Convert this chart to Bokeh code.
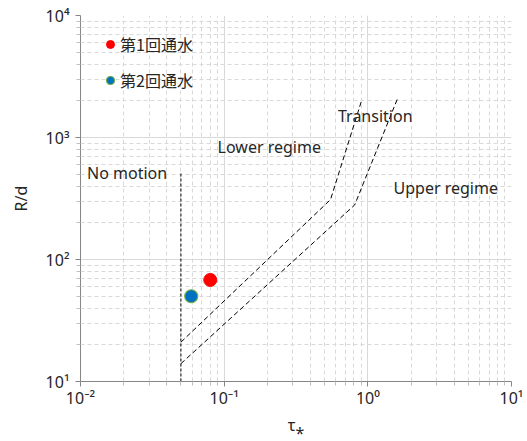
from bokeh.plotting import figure
from bokeh.models import (Range1d, FixedTicker, CustomJSTickFormatter, Label,
                          Legend, LegendItem)
from bokeh.embed import file_html
from bokeh.resources import INLINE

# Observed runs (dimensionless shear stress vs relative depth)
run_labels = ["第1回通水", "第2回通水"]
tau_star = [0.080, 0.059]
r_over_d = [68, 50]

# Regime boundaries
no_motion_tau = [0.05, 0.05]
no_motion_rd = [10, 510]
lower_bound_tau = [0.05, 0.55, 0.91]
lower_bound_rd = [21, 310, 2050]
upper_bound_tau = [0.05, 0.81, 1.6]
upper_bound_rd = [14, 280, 2050]

region_names = ["No motion", "Lower regime", "Transition", "Upper regime"]

FONT = "Noto Sans"
CJK = "Noto Sans CJK JP"
GRID = "#d9d9d9"
TEXT = "#262626"

p = figure(width=527, height=441, x_axis_type="log", y_axis_type="log",
           x_range=Range1d(0.01, 10), y_range=Range1d(10, 10000),
           output_backend="svg", toolbar_location=None,
           min_border_left=80, min_border_right=16,
           min_border_top=15, min_border_bottom=60)
p.outline_line_color = None
p.background_fill_color = "white"

decades_x = [0.01, 0.1, 1, 10]
decades_y = [10, 100, 1000, 10000]
minor_x = [k * d for d in decades_x[:-1] for k in range(2, 10)]
minor_y = [k * d for d in decades_y[:-1] for k in range(2, 10)]
p.xaxis.ticker = FixedTicker(ticks=decades_x, minor_ticks=minor_x)
p.yaxis.ticker = FixedTicker(ticks=decades_y, minor_ticks=minor_y)

fmt = CustomJSTickFormatter(code="""
const e = Math.round(Math.log10(tick));
const sup = {'-':'\u207b','0':'\u2070','1':'\u00b9','2':'\u00b2','3':'\u00b3','4':'\u2074'};
return '10' + String(e).split('').map(c => sup[c]).join('');
""")
for ax in (p.xaxis[0], p.yaxis[0]):
    ax.formatter = fmt
    ax.axis_line_color = "#868686"
    ax.major_tick_line_color = "#868686"
    ax.minor_tick_line_color = "#bfbfbf"
    ax.major_tick_out = 5
    ax.major_tick_in = 0
    ax.minor_tick_out = 4
    ax.minor_tick_in = 0
    ax.major_label_text_font = FONT
    ax.major_label_text_font_size = "16px"
    ax.major_label_text_color = TEXT
    ax.axis_label_text_font = FONT
    ax.axis_label_text_font_size = "16px"
    ax.axis_label_text_font_style = "normal"
    ax.axis_label_text_color = TEXT

p.xaxis.axis_label = "τ⁎"
p.yaxis.axis_label = "R/d"
p.xaxis.major_label_standoff = 0
p.xaxis.axis_label_standoff = 2
p.yaxis.major_label_standoff = 6
p.yaxis.axis_label_standoff = 11

for g in (p.xgrid[0], p.ygrid[0]):
    g.grid_line_color = GRID
    g.grid_line_width = 1
    g.minor_grid_line_color = GRID
    g.minor_grid_line_dash = "4 3"
    g.minor_grid_line_width = 1

# Regime boundary lines
p.line(no_motion_tau, no_motion_rd, line_color="black", line_dash="3 2", line_width=1)
p.line(lower_bound_tau, lower_bound_rd, line_color="black", line_dash="5 3", line_width=1)
p.line(upper_bound_tau, upper_bound_rd, line_color="black", line_dash="5 3", line_width=1)

# Region annotations
label_pos = [(0.0111, 507), (0.090, 843), (0.62, 1514), (1.51, 382)]
for name, (lx, ly) in zip(region_names, label_pos):
    p.add_layout(Label(x=lx, y=ly, text=name, text_font=FONT,
                       text_font_size="16px", text_color=TEXT,
                       text_baseline="middle", text_align="left"))

# Observed runs
r1 = p.scatter([tau_star[0]], [r_over_d[0]], size=13, fill_color="#ff0000",
               line_color="#ff0000", line_width=1)
r2 = p.scatter([tau_star[1]], [r_over_d[1]], size=13, fill_color="#0070c0",
               line_color="#70ad47", line_width=1.2)

legend = Legend(items=[LegendItem(label=run_labels[0], renderers=[r1]),
                       LegendItem(label=run_labels[1], renderers=[r2])],
                location=(20, 289), orientation="vertical",
                background_fill_alpha=0, border_line_color=None,
                label_text_font=CJK, label_text_font_size="16px",
                label_text_color=TEXT,
                glyph_width=20, glyph_height=20, label_height=20,
                label_standoff=0, spacing=12, padding=0, margin=0)
p.add_layout(legend)

open("out.html", "w").write(file_html(p, INLINE))
